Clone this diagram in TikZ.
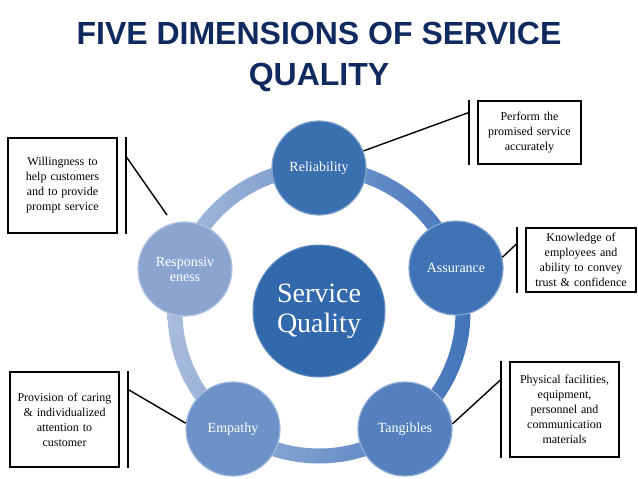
\documentclass[tikz,border=0pt]{standalone}
\usepackage{fontspec}
\setmainfont{Liberation Serif}
\newfontfamily\titlefont{Liberation Sans}
\usepackage{xcolor}
\usepackage{tikz}
\usetikzlibrary{positioning}

\definecolor{titleblue}{RGB}{16,42,96}
\definecolor{hubblue}{RGB}{50,104,172}
\definecolor{relblue}{RGB}{58,111,176}
\definecolor{assblue}{RGB}{64,115,181}
\definecolor{tanblue}{RGB}{84,129,190}
\definecolor{empblue}{RGB}{108,146,200}
\definecolor{respblue}{RGB}{140,165,208}
\definecolor{ringlight}{RGB}{168,188,220}
\definecolor{ringdark}{RGB}{66,116,186}

\begin{document}
\begin{tikzpicture}[x=1pt, y=-1pt,
  dim/.style={circle, minimum size=94pt, inner sep=0pt, text=white, align=center,
    line width=1.2pt, font=\fontsize{14}{15}\selectfont},
  notebox/.style={draw, line width=1.1pt, align=center, text width=100pt, inner sep=0pt,
    font=\fontsize{12}{15}\selectfont},
  link/.style={line width=1.4pt},
  bar/.style={line width=1.6pt}]

\useasboundingbox (0,0) rectangle (638,479);

\node[font=\titlefont\bfseries\fontsize{32}{40.5}\selectfont, text=titleblue, align=center,
  inner sep=0pt, anchor=north] (title) at (319,22) {FIVE DIMENSIONS OF SERVICE\\QUALITY};

% ring
\shade[left color=ringlight, right color=ringdark, even odd rule]
  (319,312) circle[radius=151.5pt] (319,312) circle[radius=136.5pt];

\node[circle, minimum size=132pt, inner sep=0pt, fill=hubblue, draw=hubblue!75!white,
  line width=1pt, text=white, align=center, font=\fontsize{28}{30}\selectfont]
  (hub) at (319,311) {Service\\Quality};

\node[dim, fill=relblue, draw=relblue!65!white] (rel) at (319,168) {Reliability};
\node[dim, fill=assblue, draw=assblue!65!white] (ass) at (456,268) {Assurance};
\node[dim, fill=tanblue, draw=tanblue!65!white] (tan) at (405,429) {Tangibles};
\node[dim, fill=empblue, draw=empblue!65!white] (emp) at (233,429) {Empathy};
\node[dim, fill=respblue, draw=respblue!65!white] (resp) at (185,269) {Responsiv\\eness};

% notes
\node[notebox, minimum width=103pt, minimum height=63pt] (relNote) at (529.5,132.5)
  {Perform the\\promised service\\accurately};
\node[notebox, minimum width=110pt, minimum height=64pt] (assNote) at (581,260)
  {Knowledge of\\employees and\\ability to convey\\trust \& confidence};
\node[notebox, minimum width=109pt, minimum height=95pt] (tanNote) at (564.5,409.5)
  {Physical facilities,\\equipment,\\personnel and\\communication\\materials};
\node[notebox, minimum width=109pt, minimum height=95pt] (respNote) at (62.5,185.5)
  {Willingness to\\help customers\\and to provide\\prompt service};
\node[notebox, minimum width=109pt, minimum height=95pt] (empNote) at (64.5,419.5)
  {Provision of caring\\\& individualized\\attention to\\customer};

\draw[bar] ([xshift=-8.5pt]relNote.north west) -- ([xshift=-8.5pt]relNote.south west);
\draw[bar] ([xshift=-8.5pt]assNote.north west) -- ([xshift=-8.5pt]assNote.south west);
\draw[bar] ([xshift=-8.5pt]tanNote.north west) -- ([xshift=-8.5pt]tanNote.south west);
\draw[bar] ([xshift=8.5pt]respNote.north east) -- ([xshift=8.5pt]respNote.south east);
\draw[bar] ([xshift=8.5pt]empNote.north east) -- ([xshift=8.5pt]empNote.south east);

\coordinate (relHook) at ([xshift=-8.5pt,yshift=-12pt]relNote.north west);
\coordinate (assHook) at ([xshift=-8.5pt,yshift=-16pt]assNote.north west);
\coordinate (tanHook) at ([xshift=-8.5pt,yshift=-18pt]tanNote.north west);
\coordinate (respHook) at ([xshift=8.5pt,yshift=-19pt]respNote.north east);
\coordinate (empHook) at ([xshift=8.5pt,yshift=-18pt]empNote.north east);
\coordinate (respTip) at (167,215);

\draw[link] (rel.21) -- (relHook);
\draw[link] (ass.13) -- (assHook);
\draw[link] (tan.6) -- (tanHook);
\draw[link] (respTip) -- (respHook);
\draw[link] (emp.173) -- (empHook);

\end{tikzpicture}
\end{document}
